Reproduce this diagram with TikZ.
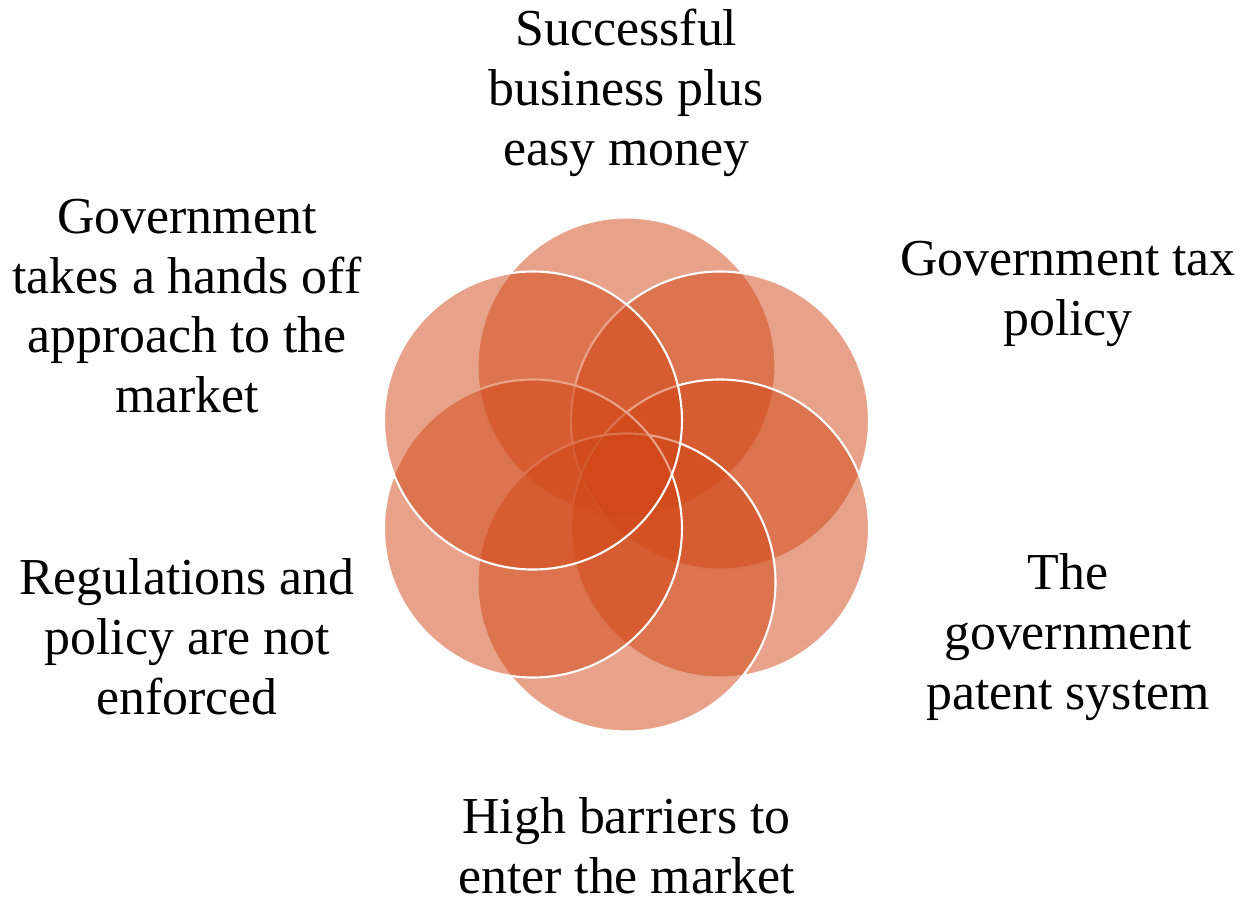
\documentclass[tikz,border=0pt]{standalone}
\usepackage{fontspec}
\setmainfont{Liberation Serif}
\definecolor{petal}{RGB}{209,70,22}
\begin{document}
\begin{tikzpicture}[
        petal/.style={fill=petal, fill opacity=0.5, draw=white, line width=1.2pt},
        lbl/.style={align=center, inner sep=0pt, font=\fontsize{29.5}{34}\selectfont}]
    \useasboundingbox (-12.53,-8.57) rectangle (12.43,9.49);

    % six overlapping circles, clockwise from the top
    \foreach \a in {90,30,-30,-90,-150,150}
        \filldraw[petal] (\a:2.16) circle (2.98);

    \node[lbl] (money) at (0,7.63) {Successful\\business plus\\easy money};
    \node[lbl] (tax) at (8.83,3.61) {Government tax\\policy};
    \node[lbl] (patent) at (8.83,-3.25) {The\\government\\patent system};
    \node[lbl] (barriers) at (0,-7.42) {High barriers to\\enter the market};
    \node[lbl] (enforce) at (-8.79,-3.25) {Regulations and\\policy are not\\enforced};
    \node[lbl] (handsoff) at (-8.79,3.37) {Government\\takes a hands off\\approach to the\\market};

\end{tikzpicture}
\end{document}
